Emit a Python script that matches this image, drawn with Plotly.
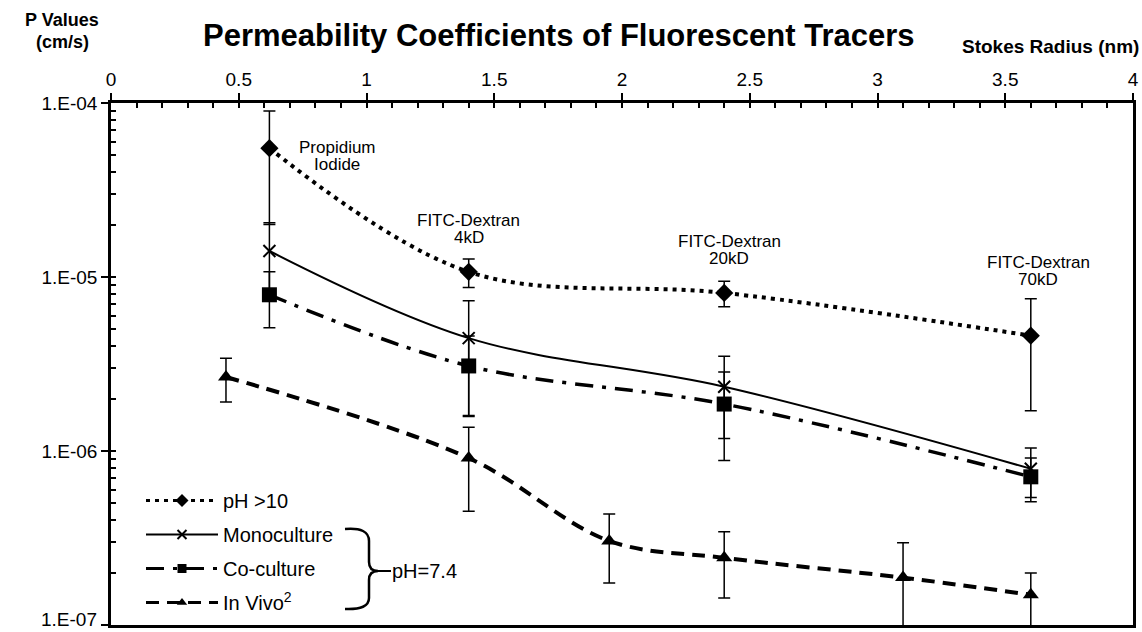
import plotly.graph_objects as go

# ---------------- data ----------------
x_main = [0.62, 1.4, 2.4, 3.6]
ph10_y = [5.5e-5, 1.07e-5, 8.1e-6, 4.6e-6]
ph10_err = [3.5e-5, 2.0e-6, 1.35e-6, 2.9e-6]

mono_y = [1.41e-5, 4.45e-6, 2.34e-6, 7.9e-7]
mono_err = [6.4e-6, 2.85e-6, 1.16e-6, 2.5e-7]

co_y = [7.9e-6, 3.08e-6, 1.86e-6, 7.1e-7]
co_err = [2.8e-6, 1.5e-6, 9.8e-7, 2.0e-7]

vivo_x = [0.45, 1.4, 1.95, 2.4, 3.1, 3.6]
vivo_y = [2.66e-6, 9.1e-7, 3.04e-7, 2.43e-7, 1.87e-7, 1.49e-7]
vivo_err = [7.5e-7, 4.6e-7, 1.3e-7, 1.0e-7, 1.1e-7, 5e-8]

y_ticks = [1e-7, 1e-6, 1e-5, 1e-4]
y_ticktext = ["", "1.E-06", "1.E-05", "1.E-04"]
y_bottom_label = "1.E-07"

tracer_line1 = ["Propidium", "FITC-Dextran", "FITC-Dextran", "FITC-Dextran"]
tracer_line2 = ["Iodide", "4kD", "20kD", "70kD"]
tracer_x = [0.885, 1.4, 2.42, 3.63]
tracer_logy = [-4.305, -4.724, -4.845, -4.966]

FONT = "Liberation Sans, Arial, sans-serif"
W, H = 1142, 632
L, R, T, B = 111, 1133, 103, 625


def px(xp):
    return (xp - L) / (R - L)


def py(yp):
    return (B - yp) / (B - T)


def err(vals):
    return dict(type="data", array=vals, visible=True, color="black", thickness=1.5, width=6)


series = [
    dict(name="pH >10", x=x_main, y=ph10_y, e=ph10_err, g="a",
         line=dict(color="black", width=4, dash="4px,5px", shape="spline", smoothing=1),
         marker=dict(symbol="diamond", size=14, color="black"),
         lmarker=dict(symbol="diamond", size=10, color="black")),
    dict(name="Monoculture", x=x_main, y=mono_y, e=mono_err, g="b",
         line=dict(color="black", width=2, shape="spline", smoothing=1),
         marker=dict(symbol="x-thin", size=12, color="black", line=dict(width=2, color="black")),
         lmarker=dict(symbol="x-thin", size=9, color="black", line=dict(width=2, color="black"))),
    dict(name="Co-culture", x=x_main, y=co_y, e=co_err, g="c",
         line=dict(color="black", width=3.5, dash="18px,9px,4px,9px", shape="spline", smoothing=1),
         marker=dict(symbol="square", size=15, color="black"),
         lmarker=dict(symbol="square", size=9, color="black")),
    dict(name="In Vivo<sup>2</sup>", x=vivo_x, y=vivo_y, e=vivo_err, g="d",
         line=dict(color="black", width=4, dash="13px,8px", shape="spline", smoothing=1),
         marker=dict(symbol="triangle-up", size=14, color="black"),
         lmarker=dict(symbol="triangle-up", size=9, color="black")),
]

fig = go.Figure()
for s in series:
    fig.add_trace(go.Scatter(x=s["x"], y=s["y"], name=s["name"], mode="lines+markers",
                             line=s["line"], marker=s["marker"], error_y=err(s["e"]),
                             legendgroup=s["g"], showlegend=False))
for s in series:
    lline = dict(s["line"])
    lline["width"] = min(lline["width"], 3)
    fig.add_trace(go.Scatter(x=[None], y=[None], name=s["name"], mode="lines+markers",
                             line=lline, marker=s["lmarker"], legendgroup=s["g"],
                             showlegend=True, hoverinfo="skip"))

# empty trace to host the minor-tick overlay axes
fig.add_trace(go.Scatter(x=[None], y=[None], xaxis="x2", yaxis="y2",
                         showlegend=False, hoverinfo="skip"))

minor_y = [k * 10.0 ** e for e in range(-7, -4) for k in range(1, 10)] + [1e-4]
yr = [-7.0005, -4.0]

fig.update_layout(
    width=W, height=H,
    margin=dict(l=L, r=W - R, t=T, b=H - B, autoexpand=False),
    paper_bgcolor="white", plot_bgcolor="white",
    font=dict(family=FONT, color="black", size=19),
    showlegend=True,
    xaxis=dict(range=[0, 4], side="top", dtick=0.5, tick0=0, ticks="outside", ticklen=7,
               tickwidth=2, tickcolor="black", showline=True, linewidth=2.5, linecolor="black",
               mirror=True, showgrid=False, zeroline=False, tickfont=dict(size=19),
               ticklabeloverflow="allow", automargin=False),
    yaxis=dict(type="log", range=yr, tickvals=y_ticks, ticktext=y_ticktext,
               ticks="outside", ticklen=7, tickwidth=2, tickcolor="black", showline=True,
               linewidth=2.5, linecolor="black", mirror=True, showgrid=False, zeroline=False,
               tickfont=dict(size=19), ticklabeloverflow="allow", automargin=False),
    xaxis2=dict(range=[0, 4], overlaying="x", side="top", anchor="y2", dtick=0.1, tick0=0,
                ticks="inside", ticklen=5, tickwidth=1.5, tickcolor="black", automargin=False,
                showticklabels=False, showline=False, showgrid=False, zeroline=False),
    yaxis2=dict(type="log", range=yr, overlaying="y", side="left", anchor="x2",
                tickvals=minor_y, ticks="inside", ticklen=5, tickwidth=1.5, tickcolor="black",
                automargin=False,
                showticklabels=False, showline=False, showgrid=False, zeroline=False),
    legend=dict(x=px(141), y=py(481), xanchor="left", yanchor="top",
                font=dict(size=20, family=FONT), itemwidth=72, traceorder="grouped",
                tracegroupgap=5, bgcolor="rgba(0,0,0,0)"),
)

annotations = []
for l1, l2, xx, yy in zip(tracer_line1, tracer_line2, tracer_x, tracer_logy):
    annotations.append(dict(x=xx, y=yy, xref="x", yref="y", text=l1, showarrow=False,
                            font=dict(size=17, family=FONT), xanchor="center",
                            yanchor="middle", yshift=8.5))
    annotations.append(dict(x=xx, y=yy, xref="x", yref="y", text=l2, showarrow=False,
                            font=dict(size=17, family=FONT), xanchor="center",
                            yanchor="middle", yshift=-8.5))

annotations += [
    dict(x=px(559), y=py(35), xref="paper", yref="paper", showarrow=False,
         text="<b>Permeability Coefficients of Fluorescent Tracers</b>",
         font=dict(size=31, family=FONT), xanchor="center", yanchor="middle"),
    dict(x=px(62), y=py(20), xref="paper", yref="paper", showarrow=False,
         text="<b>P Values</b>", font=dict(size=18, family=FONT),
         xanchor="center", yanchor="middle"),
    dict(x=px(62), y=py(42), xref="paper", yref="paper", showarrow=False,
         text="<b>(cm/s)</b>", font=dict(size=18, family=FONT),
         xanchor="center", yanchor="middle"),
    dict(x=px(1141), y=py(47), xref="paper", yref="paper", showarrow=False,
         text="<b>Stokes Radius (nm)</b>", font=dict(size=19, family=FONT),
         xanchor="right", yanchor="middle"),
    dict(x=px(390), y=py(571), xref="paper", yref="paper", showarrow=False,
         text="pH=7.4", font=dict(size=20, family=FONT), xanchor="left", yanchor="middle"),
    dict(x=px(99), y=py(619), xref="paper", yref="paper", showarrow=False,
         text=y_bottom_label, font=dict(size=19, family=FONT), xanchor="right",
         yanchor="middle"),
]
fig.update_layout(annotations=annotations)

# brace grouping the pH 7.4 series
pts = [(345, 529), (369, 527), (369, 541), (369, 562), (369, 571), (378, 571),
       (369, 571), (369, 580), (369, 598), (369, 610), (345, 609)]
P = [(px(a), py(b)) for a, b in pts]
path = (f"M {P[0][0]},{P[0][1]} Q {P[1][0]},{P[1][1]} {P[2][0]},{P[2][1]} "
        f"L {P[3][0]},{P[3][1]} Q {P[4][0]},{P[4][1]} {P[5][0]},{P[5][1]} "
        f"Q {P[6][0]},{P[6][1]} {P[7][0]},{P[7][1]} L {P[8][0]},{P[8][1]} "
        f"Q {P[9][0]},{P[9][1]} {P[10][0]},{P[10][1]}")
fig.add_shape(type="path", path=path, xref="paper", yref="paper",
              line=dict(color="black", width=2.5))
fig.add_shape(type="line", xref="paper", yref="paper", x0=px(375), x1=px(391),
              y0=py(571), y1=py(571), line=dict(color="black", width=2))

fig.write_html("out.html")
